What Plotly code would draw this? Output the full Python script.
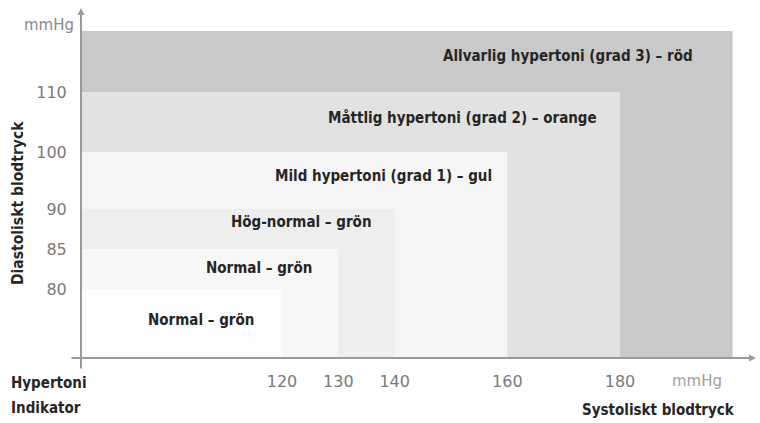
import numpy as np
import plotly.graph_objects as go

# ---------------- data ----------------
categories = [
    "Allvarlig hypertoni (grad 3) – röd",
    "Måttlig hypertoni (grad 2) – orange",
    "Mild hypertoni (grad 1) – gul",
    "Hög-normal – grön",
    "Normal – grön",
    "Normal – grön",
]
systolic_upper = [200, 180, 160, 140, 130, 120]      # mmHg
diastolic_upper = [120, 110, 100, 90, 85, 80]        # mmHg
x_tick_values = [120, 130, 140, 160, 180]
y_tick_values = [80, 85, 90, 100, 110]
y_tick_labels = ["80", "85", "90", "100", "110"]

# ---------------- styling ----------------
colors = ["#c9c9c9", "#e2e2e2", "#f5f5f5", "#eeeeee", "#f7f7f7", "#fdfdfd"]
# label centre positions: (systolic, diastolic-display)
label_pos = [(170.8, 302), (152.0, 240), (138.0, 182), (123.4, 136), (115.9, 90), (105.7, 38)]

# non-linear diastolic scale used in the picture (value -> display units)
SC_IN = [70, 80, 85, 90, 100, 110, 120]
SC_OUT = [0, 69, 109, 149, 206, 266, 327]


def yscale(v):
    return float(np.interp(v, SC_IN, SC_OUT))


W, H = 760, 423
ML, MR, MT, MB = 81, 5, 8, 65
PW, PH = W - ML - MR, H - MT - MB
X_MIN, X_MAX = 84.32, 203.97


def px(xp):
    return (xp - ML) / PW


def py(yp):
    return (H - MB - yp) / PH


BOLD = "DejaVu Sans Condensed, Liberation Sans Narrow, Arial Narrow, sans-serif"
TICK = "DejaVu Sans, Verdana, sans-serif"
AXC = "#9a9a9a"
DARK = "#262626"

fig = go.Figure()
fig.add_trace(go.Scatter(x=[X_MIN], y=[0], mode="markers", marker=dict(opacity=0),
                         hoverinfo="skip", showlegend=False))

for cat, s, d, c in zip(categories, systolic_upper, diastolic_upper, colors):
    fig.add_shape(type="rect", xref="x", yref="y", x0=X_MIN, x1=s, y0=0, y1=yscale(d),
                  fillcolor=c, line=dict(width=0), layer="below")

for cat, (lx, ly) in zip(categories, label_pos):
    fig.add_annotation(x=lx, y=ly, xref="x", yref="y", text="<b>" + cat + "</b>",
                       xanchor="center", yanchor="middle",
                       showarrow=False, font=dict(family=BOLD, size=15, color=DARK))

# axes with arrows
fig.add_annotation(x=px(81), y=py(8), xref="paper", yref="paper", ax=0, ay=362,
                   text="", showarrow=True, arrowhead=2, arrowsize=0.7, arrowwidth=2,
                   arrowcolor=AXC)
fig.add_annotation(x=px(756), y=py(358), xref="paper", yref="paper", ax=-686, ay=0,
                   text="", showarrow=True, arrowhead=2, arrowsize=0.7, arrowwidth=2,
                   arrowcolor=AXC)


def note(xp, yp, text, font, **kw):
    fig.add_annotation(x=px(xp), y=py(yp), xref="paper", yref="paper", text=text,
                       showarrow=False, font=font,
                       xanchor=kw.pop("xanchor", "center"), yanchor="middle", **kw)


# unit labels
note(49, 25, "mmHg", dict(family=TICK, size=15, color="#8a8a8a"))
note(697, 381, "mmHg", dict(family=TICK, size=15, color="#a0a0a0"))

# axis titles
note(18, 203, "<b>Diastoliskt blodtryck</b>", dict(family=BOLD, size=15.5, color=DARK),
     textangle=-90)
note(9, 383, "<b>Hypertoni</b>", dict(family=BOLD, size=15, color=DARK), xanchor="left")
note(9, 408, "<b>Indikator</b>", dict(family=BOLD, size=15, color=DARK), xanchor="left")
note(658, 410, "<b>Systoliskt blodtryck</b>", dict(family=BOLD, size=15, color=DARK))

fig.update_layout(
    width=W, height=H,
    margin=dict(l=ML, r=MR, t=MT, b=MB),
    paper_bgcolor="white", plot_bgcolor="white",
    showlegend=False,
    xaxis=dict(range=[X_MIN, X_MAX], tickvals=x_tick_values, showgrid=False,
               zeroline=False, showline=False, ticks="outside", ticklen=9,
               tickcolor="rgba(0,0,0,0)", tickfont=dict(family=TICK, size=16, color="#7a7a7a"),
               fixedrange=True),
    yaxis=dict(range=[0, PH], tickvals=[yscale(v) for v in y_tick_values],
               ticktext=y_tick_labels, showgrid=False, zeroline=False, showline=False,
               ticks="outside", ticklen=10, tickcolor="rgba(0,0,0,0)",
               tickfont=dict(family=TICK, size=16, color="#7a7a7a"), fixedrange=True),
)

fig.write_html("out.html")
